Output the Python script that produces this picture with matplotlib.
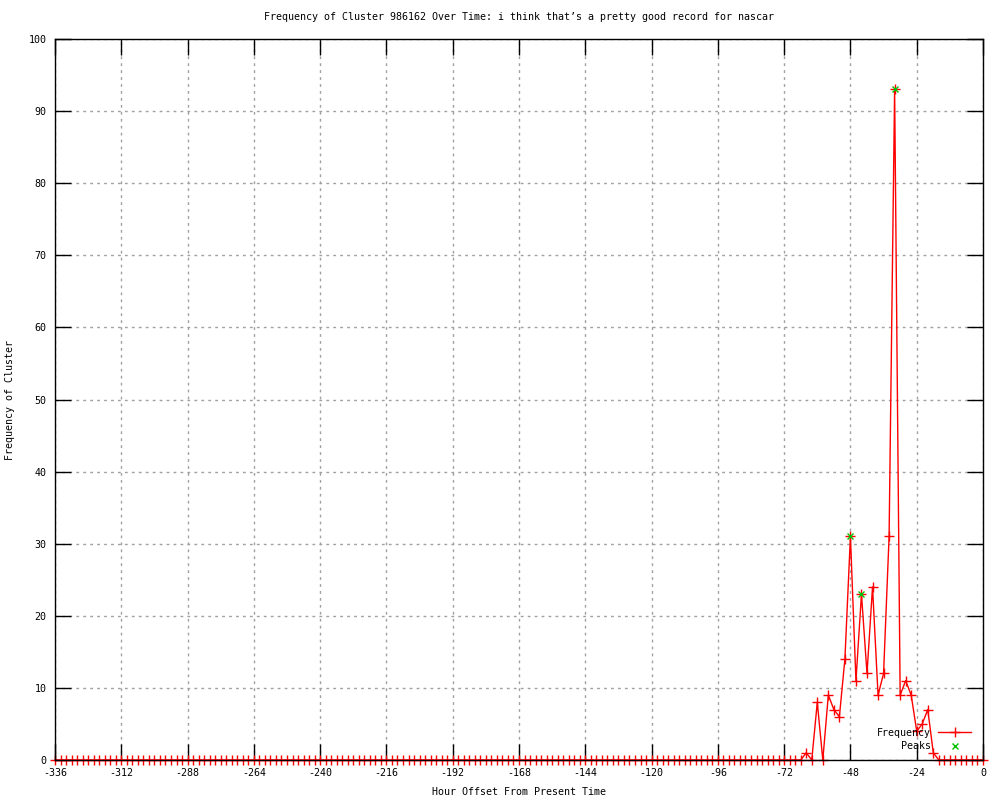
import matplotlib
matplotlib.use("Agg")
import matplotlib.pyplot as plt
from matplotlib.ticker import MultipleLocator

plt.rcParams["axes.unicode_minus"] = False

title = "Frequency of Cluster 986162 Over Time: i think that\u2019s a pretty good record for nascar"
xlabel = "Hour Offset From Present Time"
ylabel = "Frequency of Cluster"

hours = list(range(-336, 1, 2))
frequency = [
    0, 0, 0, 0, 0, 0, 0, 0, 0, 0, 0, 0, 0, 0, 0, 0, 0, 0, 0, 0,
    0, 0, 0, 0, 0, 0, 0, 0, 0, 0, 0, 0, 0, 0, 0, 0, 0, 0, 0, 0,
    0, 0, 0, 0, 0, 0, 0, 0, 0, 0, 0, 0, 0, 0, 0, 0, 0, 0, 0, 0,
    0, 0, 0, 0, 0, 0, 0, 0, 0, 0, 0, 0, 0, 0, 0, 0, 0, 0, 0, 0,
    0, 0, 0, 0, 0, 0, 0, 0, 0, 0, 0, 0, 0, 0, 0, 0, 0, 0, 0, 0,
    0, 0, 0, 0, 0, 0, 0, 0, 0, 0, 0, 0, 0, 0, 0, 0, 0, 0, 0, 0,
    0, 0, 0, 0, 0, 0, 0, 0, 0, 0, 0, 0, 0, 0, 0, 0,
    1, 0, 8, 0, 9, 7, 6, 14, 31, 11, 23, 12, 24, 9, 12, 31, 93, 9, 11, 9,
    4, 5, 7, 1,
    0, 0, 0, 0, 0, 0, 0, 0, 0,
]
peak_hours = [-48, -44, -32]
peak_values = [31, 23, 93]

font = "DejaVu Sans Mono"
fs = 7.2

fig = plt.figure(figsize=(10, 8), dpi=100)
ax = fig.add_axes([0.055, 0.05, 0.928, 0.90125])

ax.plot(hours, frequency, color="#ff0000", linewidth=1.0, marker="+",
        markersize=7, markeredgewidth=1.0, label="Frequency", zorder=3,
        clip_on=False)
ax.plot(peak_hours, peak_values, linestyle="none", color="#00c000", marker="x",
        markersize=5, markeredgewidth=1.0, label="Peaks", zorder=4,
        clip_on=False)

ax.set_xlim(-336, 0)
ax.set_ylim(0, 100)
ax.xaxis.set_major_locator(MultipleLocator(24))
ax.yaxis.set_major_locator(MultipleLocator(10))
ax.tick_params(direction="in", length=11.5, width=1, top=True, right=True,
               labelsize=fs, pad=6)
for lab in ax.get_xticklabels() + ax.get_yticklabels():
    lab.set_fontfamily(font)
ax.grid(True, color="#a0a0a0", linestyle=(0, (2, 3)), linewidth=1.0)
for s in ax.spines.values():
    s.set_linewidth(1.0)
    s.set_zorder(5)

ax.set_title(title, fontfamily=font, fontsize=fs, pad=14)
ax.set_xlabel(xlabel, fontfamily=font, fontsize=fs, labelpad=6)
ax.set_ylabel(ylabel, fontfamily=font, fontsize=fs, labelpad=10)

leg = ax.legend(loc="lower right", frameon=False, markerfirst=False,
                prop={"family": font, "size": fs}, handlelength=3.3,
                handletextpad=0.7, borderaxespad=0.6, borderpad=0.3,
                labelspacing=0.35, bbox_to_anchor=(0.997, 0.0))
for t in leg.get_texts():
    t.set_ha("right")

fig.savefig("out.png", dpi=100)
